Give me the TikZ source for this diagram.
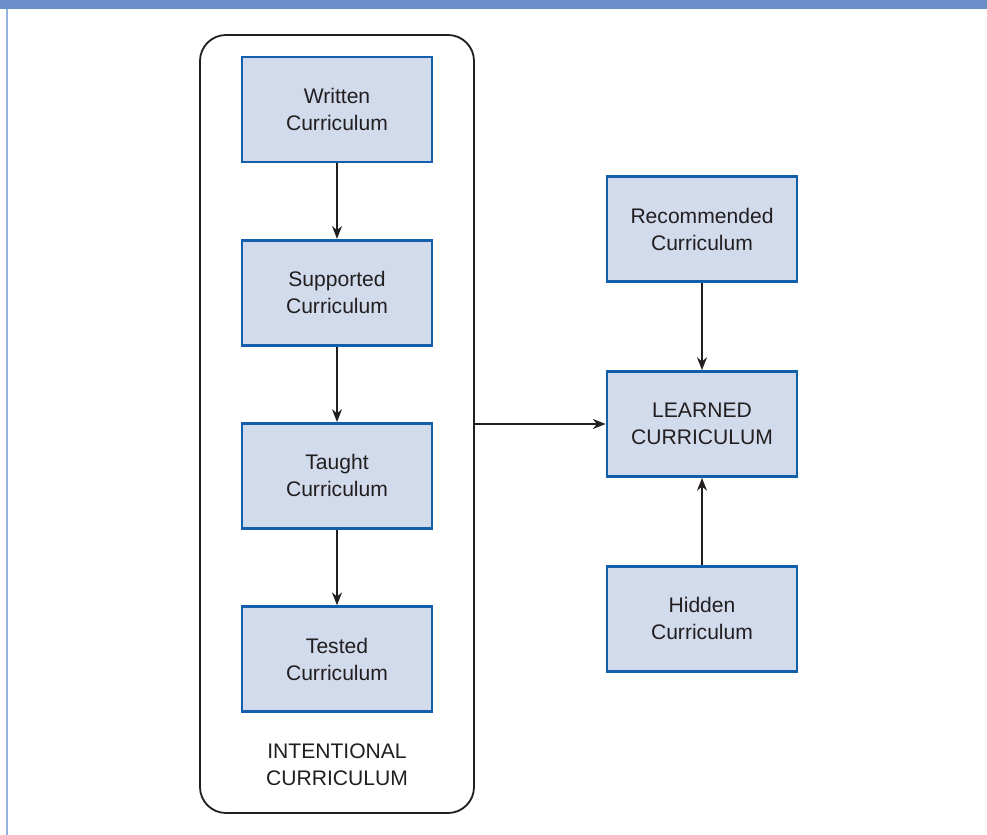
\documentclass[tikz,border=0pt]{standalone}
\usepackage{fontspec}
\setmainfont{Liberation Sans}
\usepackage{tikz}
\usetikzlibrary{positioning,arrows.meta}

\definecolor{boxfill}{RGB}{209,219,236}
\definecolor{boxline}{RGB}{18,96,172}
\definecolor{barblue}{RGB}{106,143,200}
\definecolor{edgeblue}{RGB}{150,178,222}
\definecolor{inkgray}{RGB}{35,31,32}

\begin{document}
\begin{tikzpicture}[node distance={18.85mm}, font=\fontsize{15}{19.2}\selectfont,
    currbox/.style = {draw=boxline, fill=boxfill, line width=2pt, minimum width=4.75cm, minimum height=2.625cm, align=center, text=inkgray},
    outerbox/.style = {draw=inkgray, line width=1.3pt, rounded corners=6.5mm, minimum width=6.85cm, minimum height=19.45cm},
    arrow/.style = {-{Stealth[length=3.2mm, width=2.5mm]}, draw=inkgray, line width=0.9pt}]
    \useasboundingbox (0,0) rectangle (24.675,-20.875);
    % frame of the figure
    \fill[barblue] (0,0) rectangle (24.675,-0.22);
    \draw[edgeblue, line width=1.4pt] (0.17,-0.22) -- (0.17,-20.875);

    \node[outerbox] (intent) at (8.425,-10.6) {};
    \node[align=center, text=inkgray] (intentlabel) at (8.425,-19.125) {INTENTIONAL\\CURRICULUM};

    \node[currbox] (written) at (8.425,-2.7375) {Written\\Curriculum};
    \node[currbox] (supported) [below =of written] {Supported\\Curriculum};
    \node[currbox] (taught) [below =of supported] {Taught\\Curriculum};
    \node[currbox] (tested) [below =of taught] {Tested\\Curriculum};

    \node[currbox] (learned) at (17.55,-10.6) {LEARNED\\CURRICULUM};
    \node[currbox] (recommended) [above =21.75mm of learned] {Recommended\\Curriculum};
    \node[currbox] (hidden) [below =21.75mm of learned] {Hidden\\Curriculum};

    \draw[arrow] (written) -- (supported);
    \draw[arrow] (supported) -- (taught);
    \draw[arrow] (taught) -- (tested);
    \draw[arrow] (intent.east) -- (learned.west);
    \draw[arrow] (recommended) -- (learned);
    \draw[arrow] (hidden) -- (learned);

\end{tikzpicture}
\end{document}
